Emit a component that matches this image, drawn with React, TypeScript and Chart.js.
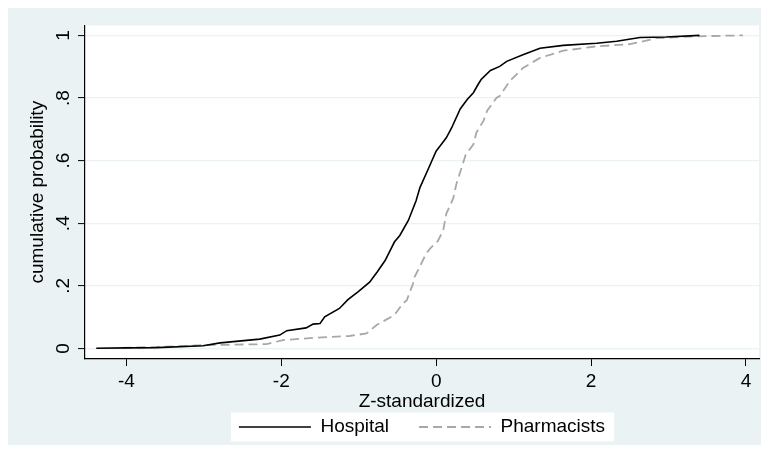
import React, { useEffect, useRef } from "react";
import { Chart, registerables } from "chart.js";

Chart.register(...registerables);

const hospitalZ = [
  -4.39, -4.0, -3.61, -3.01, -2.79, -2.28, -2.02, -1.93, -1.68, -1.59, -1.5, -1.44,
  -1.25, -1.14, -1.01, -0.86, -0.76, -0.66, -0.54, -0.47, -0.36, -0.26, -0.21, -0.1,
  0.0, 0.05, 0.13, 0.2, 0.31, 0.4, 0.48, 0.54, 0.58, 0.7, 0.82, 0.91, 1.12, 1.34,
  1.64, 2.07, 2.33, 2.63, 2.97, 3.4,
];
const hospitalP = [
  0.001, 0.002, 0.003, 0.009, 0.018, 0.03, 0.043, 0.057, 0.066, 0.078, 0.08, 0.101,
  0.128, 0.156, 0.181, 0.212, 0.245, 0.281, 0.34, 0.361, 0.409, 0.472, 0.514, 0.575,
  0.631, 0.647, 0.673, 0.705, 0.765, 0.795, 0.817, 0.843, 0.859, 0.888, 0.901, 0.917,
  0.938, 0.959, 0.968, 0.975, 0.981, 0.993, 0.995, 1.0,
];
const pharmZ = [
  -4.05, -3.5, -2.97, -2.19, -1.98, -1.59, -1.12, -0.9, -0.77, -0.54, -0.43, -0.38,
  -0.3, -0.28, -0.13, -0.08, 0.02, 0.09, 0.13, 0.22, 0.26, 0.38, 0.48, 0.52, 0.61,
  0.66, 0.78, 0.82, 0.95, 1.12, 1.34, 1.64, 2.07, 2.5, 2.71, 2.84, 3.36, 3.96,
];
const pharmP = [
  0.002, 0.006, 0.011, 0.014, 0.027, 0.034, 0.04, 0.048, 0.075, 0.107, 0.144, 0.154,
  0.207, 0.228, 0.303, 0.319, 0.343, 0.377, 0.43, 0.48, 0.525, 0.618, 0.652, 0.69,
  0.727, 0.76, 0.801, 0.806, 0.854, 0.896, 0.928, 0.951, 0.965, 0.972, 0.983, 0.991,
  0.997, 1.0,
];

const seriesNames = ["Hospital", "Pharmacists"];
const xTicks = [-4, -2, 0, 2, 4];
const xTickLabels = ["-4", "-2", "0", "2", "4"];
const yTicks = [0, 0.2, 0.4, 0.6, 0.8, 1];
const yTickLabels = ["0", ".2", ".4", ".6", ".8", "1"];
const xTitle = "Z-standardized";
const yTitle = "cumulative probability";

const BG = "#EAF2F3";
const FONT = "'Liberation Sans', Arial, sans-serif";
const FS = 19;

const bgPlugin = {
  id: "stataBg",
  beforeDraw(chart: any) {
    const { ctx, width, height, chartArea } = chart;
    ctx.save();
    ctx.fillStyle = BG;
    ctx.fillRect(0, 0, width, height);
    ctx.fillStyle = "#ffffff";
    ctx.fillRect(
      chartArea.left,
      chartArea.top,
      chartArea.right - chartArea.left,
      chartArea.bottom - chartArea.top
    );
    const lg = chart.legend;
    if (lg && lg.legendHitBoxes && lg.legendHitBoxes.length) {
      const hb = lg.legendHitBoxes;
      const l = Math.min(...hb.map((h: any) => h.left));
      const r = Math.max(...hb.map((h: any) => h.left + h.width));
      const t = Math.min(...hb.map((h: any) => h.top));
      const b = Math.max(...hb.map((h: any) => h.top + h.height));
      ctx.fillRect(l - 8, t - 5, r - l + 17, b - t + 10);
    }
    ctx.restore();
  },
};

export default function App() {
  const ref = useRef<HTMLCanvasElement | null>(null);

  useEffect(() => {
    if (!ref.current) return;
    const chart = new Chart(ref.current, {
      type: "scatter",
      data: {
        datasets: [
          {
            label: seriesNames[0],
            data: hospitalZ.map((x, i) => ({ x, y: hospitalP[i] })),
            showLine: true,
            borderColor: "#000000",
            backgroundColor: "#000000",
            borderWidth: 1.6,
            pointRadius: 0,
            tension: 0,
          },
          {
            label: seriesNames[1],
            data: pharmZ.map((x, i) => ({ x, y: pharmP[i] })),
            showLine: true,
            borderColor: "#A8A8A8",
            backgroundColor: "#A8A8A8",
            borderWidth: 1.8,
            borderDash: [9, 5],
            pointRadius: 0,
            tension: 0,
          },
        ],
      },
      options: {
        responsive: false,
        animation: false,
        devicePixelRatio: 1,
        layout: { padding: { top: 16, right: 10, left: 0, bottom: -1.5 } },
        plugins: {
          tooltip: { enabled: false },
          legend: {
            position: "bottom",
            fullSize: false,
            labels: {
              usePointStyle: true,
              pointStyle: "line",
              pointStyleWidth: 72,
              padding: 30,
              color: "#000",
              font: { family: FONT, size: FS },
              generateLabels: (c: any) =>
                c.data.datasets.map((ds: any, i: number) => ({
                  text: ds.label,
                  fillStyle: "rgba(0,0,0,0)",
                  strokeStyle: ds.borderColor,
                  lineWidth: ds.borderWidth,
                  lineDash: ds.borderDash || [],
                  pointStyle: "line",
                  hidden: false,
                  datasetIndex: i,
                  fontColor: "#000",
                })),
            },
          },
        },
        scales: {
          x: {
            type: "linear",
            min: -4.535,
            max: 4.168,
            afterBuildTicks: (s: any) => {
              s.ticks = xTicks.map((v) => ({ value: v }));
            },
            afterFit: (s: any) => {
              s.height = 28.5;
            },
            ticks: {
              color: "#000",
              font: { family: FONT, size: FS },
              padding: 4.6,
              maxRotation: 0,
              autoSkip: false,
              callback: (v: any) => {
                const i = xTicks.indexOf(Number(v));
                return i >= 0 ? xTickLabels[i] : "";
              },
            },
            grid: {
              drawOnChartArea: false,
              drawTicks: true,
              tickLength: 7,
              tickColor: "#000",
              tickWidth: 1,
            },
            border: { display: true, color: "#000", width: 1.2 },
            title: {
              display: true,
              text: xTitle,
              color: "#000",
              font: { family: FONT, size: FS },
              padding: { top: 0, bottom: -25.9 },
            },
          },
          y: {
            type: "linear",
            min: -0.0334,
            max: 1.0318,
            afterBuildTicks: (s: any) => {
              s.ticks = yTicks.map((v) => ({ value: v }));
            },
            afterFit: (s: any) => {
              s.width = 77;
            },
            ticks: {
              color: "#000",
              font: { family: FONT, size: FS },
              padding: 6,
              minRotation: 90,
              maxRotation: 90,
              crossAlign: "center",
              autoSkip: false,
              callback: (v: any) => {
                const i = yTicks.findIndex((t) => Math.abs(t - Number(v)) < 1e-9);
                return i >= 0 ? yTickLabels[i] : "";
              },
            },
            grid: {
              color: BG,
              lineWidth: 1.2,
              drawTicks: true,
              tickLength: 7,
              tickColor: "#000",
              tickWidth: 1,
            },
            border: { display: true, color: "#000", width: 1.2 },
            title: {
              display: true,
              text: yTitle,
              color: "#000",
              font: { family: FONT, size: FS },
              padding: { top: 18.6, bottom: 0 },
            },
          },
        },
      },
      plugins: [bgPlugin],
    } as any);
    return () => chart.destroy();
  }, []);

  return (
    <canvas
      ref={ref}
      width={761}
      height={437}
      style={{ display: "block", width: 761, height: 437 }}
    />
  );
}
